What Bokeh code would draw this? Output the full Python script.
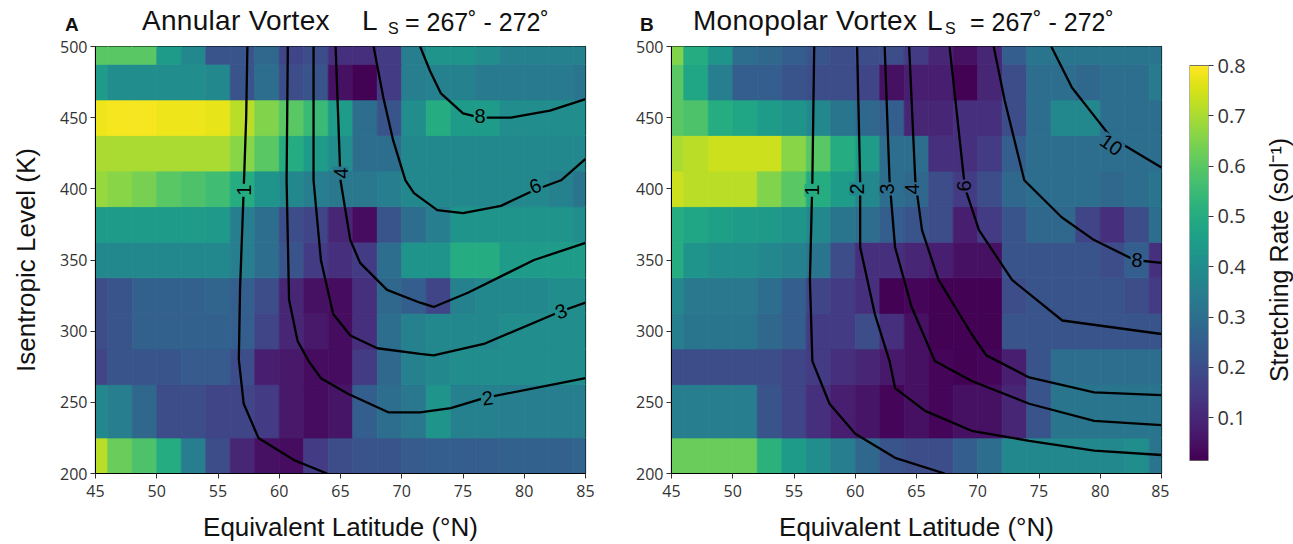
import numpy as np
from bokeh.plotting import figure
from bokeh.models import (LinearColorMapper, ColumnDataSource, Range1d,
                          FixedTicker, LinearAxis, Div)
from bokeh.layouts import row, column
from bokeh.palettes import Viridis256
from bokeh.embed import file_html
from bokeh.resources import INLINE
from bokeh.core.properties import value

# ---------------- data ----------------
latitudes = list(range(45, 86, 2))          # cell centres (deg N)
levels = [200, 250, 275, 300, 325, 350, 375, 400, 425, 450, 475, 500]   # K
x_ticks = [45, 50, 55, 60, 65, 70, 75, 80, 85]
y_ticks = [200, 250, 300, 350, 400, 450, 500]
cbar_ticks = [0.1, 0.2, 0.3, 0.4, 0.5, 0.6, 0.7, 0.8]

# Panel A: annular vortex stretching rate (sol^-1), one list per level
annular_200 = [0.72, 0.62, 0.58, 0.50, 0.35, 0.20, 0.10, 0.05, 0.04, 0.15, 0.20, 0.22, 0.22, 0.24, 0.25, 0.25, 0.25, 0.26, 0.26, 0.26, 0.27]
annular_250 = [0.38, 0.35, 0.28, 0.20, 0.20, 0.18, 0.18, 0.15, 0.07, 0.04, 0.06, 0.25, 0.30, 0.33, 0.42, 0.36, 0.36, 0.35, 0.35, 0.35, 0.35]
annular_275 = [0.18, 0.22, 0.22, 0.22, 0.24, 0.24, 0.20, 0.08, 0.07, 0.04, 0.04, 0.15, 0.28, 0.36, 0.38, 0.40, 0.40, 0.40, 0.40, 0.40, 0.40]
annular_300 = [0.20, 0.22, 0.26, 0.26, 0.26, 0.26, 0.25, 0.18, 0.10, 0.07, 0.04, 0.12, 0.30, 0.36, 0.38, 0.38, 0.38, 0.40, 0.40, 0.40, 0.40]
annular_325 = [0.20, 0.22, 0.26, 0.26, 0.26, 0.27, 0.25, 0.20, 0.10, 0.05, 0.04, 0.12, 0.28, 0.25, 0.18, 0.36, 0.38, 0.38, 0.38, 0.40, 0.40]
annular_350 = [0.38, 0.38, 0.38, 0.38, 0.38, 0.38, 0.35, 0.30, 0.22, 0.15, 0.12, 0.15, 0.30, 0.42, 0.42, 0.50, 0.50, 0.45, 0.45, 0.45, 0.45]
annular_375 = [0.45, 0.45, 0.45, 0.45, 0.45, 0.44, 0.35, 0.30, 0.20, 0.18, 0.10, 0.04, 0.22, 0.30, 0.35, 0.42, 0.42, 0.42, 0.42, 0.42, 0.40]
annular_400 = [0.68, 0.66, 0.64, 0.60, 0.58, 0.56, 0.50, 0.42, 0.38, 0.35, 0.33, 0.33, 0.35, 0.38, 0.38, 0.38, 0.38, 0.38, 0.38, 0.36, 0.32]
annular_425 = [0.70, 0.70, 0.70, 0.70, 0.70, 0.70, 0.66, 0.60, 0.50, 0.45, 0.40, 0.30, 0.30, 0.38, 0.38, 0.38, 0.38, 0.38, 0.38, 0.38, 0.38]
annular_450 = [0.78, 0.79, 0.79, 0.78, 0.78, 0.77, 0.72, 0.65, 0.60, 0.55, 0.45, 0.30, 0.22, 0.40, 0.50, 0.45, 0.45, 0.40, 0.40, 0.40, 0.40]
annular_475 = [0.45, 0.40, 0.40, 0.40, 0.40, 0.38, 0.22, 0.30, 0.20, 0.22, 0.05, 0.02, 0.15, 0.35, 0.36, 0.36, 0.34, 0.34, 0.34, 0.34, 0.32]
annular_500 = [0.60, 0.60, 0.60, 0.45, 0.38, 0.22, 0.22, 0.28, 0.18, 0.20, 0.12, 0.12, 0.15, 0.35, 0.42, 0.42, 0.40, 0.36, 0.36, 0.36, 0.36]

# Panel B: monopolar vortex stretching rate (sol^-1)
monopolar_200 = [0.62, 0.62, 0.62, 0.62, 0.52, 0.45, 0.40, 0.35, 0.28, 0.22, 0.20, 0.20, 0.25, 0.30, 0.38, 0.38, 0.38, 0.38, 0.38, 0.40, 0.32]
monopolar_250 = [0.35, 0.35, 0.35, 0.35, 0.22, 0.18, 0.12, 0.08, 0.06, 0.03, 0.05, 0.03, 0.05, 0.05, 0.10, 0.22, 0.32, 0.32, 0.32, 0.32, 0.32]
monopolar_275 = [0.20, 0.20, 0.20, 0.20, 0.20, 0.18, 0.15, 0.12, 0.10, 0.07, 0.05, 0.03, 0.02, 0.03, 0.08, 0.22, 0.30, 0.30, 0.30, 0.30, 0.30]
monopolar_300 = [0.35, 0.32, 0.32, 0.32, 0.28, 0.25, 0.15, 0.15, 0.20, 0.12, 0.05, 0.02, 0.02, 0.02, 0.22, 0.22, 0.22, 0.22, 0.22, 0.22, 0.22]
monopolar_325 = [0.38, 0.33, 0.33, 0.33, 0.30, 0.25, 0.18, 0.15, 0.12, 0.02, 0.03, 0.02, 0.02, 0.02, 0.20, 0.22, 0.22, 0.22, 0.22, 0.20, 0.15]
monopolar_350 = [0.50, 0.42, 0.40, 0.40, 0.38, 0.36, 0.32, 0.20, 0.12, 0.12, 0.10, 0.08, 0.05, 0.05, 0.22, 0.22, 0.22, 0.22, 0.20, 0.25, 0.12]
monopolar_375 = [0.50, 0.48, 0.46, 0.45, 0.44, 0.42, 0.38, 0.32, 0.30, 0.25, 0.22, 0.20, 0.08, 0.15, 0.22, 0.28, 0.28, 0.18, 0.12, 0.20, 0.30]
monopolar_400 = [0.74, 0.72, 0.72, 0.72, 0.65, 0.60, 0.50, 0.45, 0.38, 0.30, 0.28, 0.20, 0.15, 0.20, 0.28, 0.30, 0.30, 0.30, 0.28, 0.30, 0.32]
monopolar_425 = [0.70, 0.72, 0.74, 0.74, 0.74, 0.66, 0.60, 0.50, 0.45, 0.30, 0.30, 0.12, 0.12, 0.15, 0.25, 0.30, 0.30, 0.30, 0.30, 0.30, 0.30]
monopolar_450 = [0.60, 0.58, 0.50, 0.48, 0.45, 0.42, 0.38, 0.32, 0.28, 0.25, 0.10, 0.10, 0.12, 0.12, 0.20, 0.30, 0.38, 0.38, 0.30, 0.30, 0.30]
monopolar_475 = [0.60, 0.48, 0.35, 0.25, 0.25, 0.22, 0.20, 0.20, 0.18, 0.05, 0.08, 0.08, 0.02, 0.10, 0.20, 0.30, 0.30, 0.28, 0.30, 0.30, 0.34]
monopolar_500 = [0.65, 0.50, 0.42, 0.30, 0.28, 0.25, 0.22, 0.20, 0.20, 0.20, 0.15, 0.10, 0.05, 0.10, 0.25, 0.32, 0.32, 0.32, 0.32, 0.32, 0.32]

# Contours (equivalent latitude, isentropic level) for panel A
a_c1_lat = [57.4, 57.3, 57.1, 56.8, 56.7, 57.1, 58.3, 61.3, 63.9]
a_c1_K = [500, 450, 400, 330, 280, 249, 225, 209, 200]
a_c2_lat = [60.7, 60.6, 60.8, 61.5, 62.4, 63.4, 65.6, 68.9, 71.5, 74.0, 76.7, 85.0]
a_c2_K = [500, 406, 322, 293, 279, 267, 256, 243, 243, 246, 253, 267]
a_c3_lat = [62.8, 62.8, 63.4, 64.4, 65.8, 68.0, 71.5, 72.6, 76.7, 83.0, 85.0]
a_c3_K = [500, 406, 350, 312, 297, 288, 284, 283, 291, 314, 320]
a_c4_lat = [64.6, 65.0, 65.8, 66.6, 68.8, 71.5, 72.6, 75.4, 80.8, 85.0]
a_c4_K = [500, 406, 364, 348, 329, 320, 317, 327, 350, 362]
a_c6_lat = [67.7, 68.5, 69.3, 70.3, 71.0, 72.9, 75.0, 78.1, 80.8, 83.0, 85.0]
a_c6_K = [500, 464, 434, 406, 397, 385, 383, 388, 399, 406, 421]
a_c8_lat = [71.5, 72.3, 73.2, 75.0, 76.4, 78.9, 82.1, 85.0]
a_c8_K = [500, 483, 467, 453, 450, 450, 455, 463]

# Contours for panel B
b_c1_lat = [56.65, 56.5, 56.3, 56.5, 57.9, 60.0, 63.25, 67.3]
b_c1_K = [500, 406, 336, 279, 249, 228, 211, 200]
b_c2_lat = [60.15, 60.4, 60.4, 61.6, 62.8, 63.25, 65.7, 69.5, 74.2, 79.5, 85.0]
b_c2_K = [500, 406, 359, 312, 279, 260, 244, 230, 223, 216, 213]
b_c3_lat = [62.4, 62.8, 63.25, 64.6, 66.5, 69.5, 74.2, 79.5, 85.0]
b_c3_K = [500, 406, 359, 317, 279, 265, 249, 237, 234]
b_c4_lat = [64.4, 64.9, 65.45, 66.8, 69.5, 70.7, 74.2, 79.5, 85.0]
b_c4_K = [500, 406, 371, 336, 298, 283, 267.5, 257, 255]
b_c6_lat = [67.7, 68.95, 70.1, 72.8, 76.9, 85.0]
b_c6_K = [500, 401, 371, 336, 307.5, 298]
b_c8_lat = [71.3, 72.2, 73.8, 76.85, 79.5, 82.8, 85.0]
b_c8_K = [500, 462, 406, 380, 364, 350, 348]
b_c10_lat = [76.0, 77.7, 80.9, 85.0]
b_c10_K = [500, 471, 436, 415]

# Contour labels: text, lat, K, angle (deg)
a_label_text = ["1", "4", "8", "6", "3", "2"]
a_label_lat = [57.1, 65.0, 76.4, 80.9, 83.0, 77.0]
a_label_K = [399, 411, 451, 402, 314, 253]
a_label_ang = [90, 90, 0, 22, 20, 8]
b_label_text = ["1", "2", "3", "4", "6", "10", "8"]
b_label_lat = [56.5, 60.15, 62.6, 64.6, 68.9, 80.9, 83.0]
b_label_K = [399, 400, 400, 400, 402, 431, 350]
b_label_ang = [90, 90, 90, 90, 90, -35, -4]

VMIN, VMAX = 0.015, 0.8

# ---------------- helpers ----------------
mapper = LinearColorMapper(palette=Viridis256, low=VMIN, high=VMAX)
TICK_FONT = "Open Sans"
LABEL_FONT = "Liberation Sans"
TITLE_H = 35
TOP, BOTTOM, FRAME_H = 11, 71, 427


def level_edges():
    lv = np.array(levels, float)
    mids = (lv[:-1] + lv[1:]) / 2
    bottoms = np.concatenate([[lv[0] - (mids[0] - lv[0])], mids])
    tops = np.concatenate([mids, [lv[-1] + (lv[-1] - mids[-1])]])
    return bottoms, tops


def cell_source(rows):
    bottoms, tops = level_edges()
    d = dict(left=[], right=[], bottom=[], top=[], rate=[])
    for i, r in enumerate(rows):
        for j, v in enumerate(r):
            d["left"].append(latitudes[j] - 1)
            d["right"].append(latitudes[j] + 1)
            d["bottom"].append(bottoms[i])
            d["top"].append(tops[i])
            d["rate"].append(v)
    return ColumnDataSource(d)


def rate_under(rows, lat, K):
    bottoms, tops = level_edges()
    i = int(np.searchsorted(tops, K))
    i = min(max(i, 0), len(levels) - 1)
    j = int(round((lat - latitudes[0]) / 2.0))
    j = min(max(j, 0), len(latitudes) - 1)
    return rows[i][j]


def make_panel(rows, contours, lab_text, lab_lat, lab_K, lab_ang,
               left_border, right_border, ylabel):
    p = figure(x_range=Range1d(45, 85), y_range=Range1d(200, 500),
               frame_width=490, frame_height=FRAME_H, title=None,
               min_border_left=left_border, min_border_right=right_border,
               min_border_top=TOP, min_border_bottom=BOTTOM,
               output_backend="svg", toolbar_location=None, tools="")
    cmap_field = {"field": "rate", "transform": mapper}
    p.quad(left="left", right="right", bottom="bottom", top="top",
           source=cell_source(rows), fill_color=cmap_field,
           line_color=cmap_field, line_width=0.8)
    for xs, ys in contours:
        p.line(xs, ys, line_color="black", line_width=2.3)
    lab_src = ColumnDataSource(dict(
        x=lab_lat, y=lab_K, text=lab_text,
        angle=[np.deg2rad(a) for a in lab_ang],
        rate=[rate_under(rows, la, k) for la, k in zip(lab_lat, lab_K)]))
    p.text(x="x", y="y", text="text", angle="angle", source=lab_src,
           text_align="center", text_baseline="middle",
           text_font=value(LABEL_FONT), text_font_size="20px", text_color="black",
           background_fill_color=cmap_field, padding=1)
    p.xgrid.visible = False
    p.ygrid.visible = False
    p.outline_line_color = "black"
    p.outline_line_width = 1.2
    p.xaxis.ticker = FixedTicker(ticks=x_ticks)
    p.yaxis.ticker = FixedTicker(ticks=y_ticks)
    p.axis.minor_tick_line_color = None
    p.axis.major_tick_in = 0
    p.axis.major_tick_out = 5
    p.axis.major_tick_line_color = "#333333"
    p.axis.axis_line_color = "black"
    p.axis.major_label_text_font = TICK_FONT
    p.axis.major_label_text_font_size = "16px"
    p.axis.major_label_text_color = "#333333"
    p.yaxis.major_label_standoff = 3
    p.xaxis.major_label_standoff = 6
    p.xaxis.axis_label = "Equivalent Latitude (°N)"
    p.xaxis.axis_label_standoff = 12
    if ylabel:
        p.yaxis.axis_label = ylabel
        p.yaxis.axis_label_standoff = 16
    p.axis.axis_label_text_font = LABEL_FONT
    p.axis.axis_label_text_font_size = "26px"
    p.axis.axis_label_text_font_style = "normal"
    p.axis.axis_label_text_color = "#111111"
    return p


annular_rows = [annular_200, annular_250, annular_275, annular_300, annular_325, annular_350,
                annular_375, annular_400, annular_425, annular_450, annular_475, annular_500]
monopolar_rows = [monopolar_200, monopolar_250, monopolar_275, monopolar_300, monopolar_325,
                  monopolar_350, monopolar_375, monopolar_400, monopolar_425, monopolar_450,
                  monopolar_475, monopolar_500]

pa = make_panel(annular_rows,
                [(a_c1_lat, a_c1_K), (a_c2_lat, a_c2_K), (a_c3_lat, a_c3_K),
                 (a_c4_lat, a_c4_K), (a_c6_lat, a_c6_K), (a_c8_lat, a_c8_K)],
                a_label_text, a_label_lat, a_label_K, a_label_ang,
                95, 48, "Isentropic Level (K)")

pb = make_panel(monopolar_rows,
                [(b_c1_lat, b_c1_K), (b_c2_lat, b_c2_K), (b_c3_lat, b_c3_K),
                 (b_c4_lat, b_c4_K), (b_c6_lat, b_c6_K), (b_c8_lat, b_c8_K),
                 (b_c10_lat, b_c10_K)],
                b_label_text, b_label_lat, b_label_K, b_label_ang,
                36, 8, None)

# ---------------- colour bar ----------------
px_per_unit = 395 / (VMAX - VMIN)
cb_low = VMIN - 13 / px_per_unit
cb_high = VMAX + 19 / px_per_unit
pc = figure(x_range=Range1d(0, 1), y_range=Range1d(cb_low, cb_high),
            frame_width=19, frame_height=FRAME_H, title=None,
            min_border_left=20, min_border_right=45,
            min_border_top=TOP, min_border_bottom=BOTTOM,
            output_backend="svg", toolbar_location=None, tools="",
            x_axis_location=None, y_axis_location=None)
grad = np.linspace(VMIN, VMAX, 256).reshape(256, 1)
pc.image(image=[grad], x=0, y=VMIN, dw=1, dh=VMAX - VMIN, color_mapper=mapper)
pc.quad(left=[0], right=[1], bottom=[VMIN], top=[VMAX], fill_color=None,
        line_color="#555555", line_width=0.8)
pc.xgrid.visible = False
pc.ygrid.visible = False
pc.outline_line_color = None
cax = LinearAxis(ticker=FixedTicker(ticks=cbar_ticks))
cax.axis_line_color = None
cax.major_tick_in = 0
cax.major_tick_out = 5
cax.major_tick_line_color = "#333333"
cax.minor_tick_line_color = None
cax.major_label_text_font = TICK_FONT
cax.major_label_text_font_size = "20px"
cax.major_label_text_color = "#333333"
cax.major_label_standoff = 4
pc.add_layout(cax, "right")

# colour-bar title: a left axis label of a thin companion plot (reads bottom-to-top)
pd = figure(x_range=Range1d(0, 1), y_range=Range1d(cb_low, cb_high),
            frame_width=1, frame_height=FRAME_H, title=None,
            min_border_left=41, min_border_right=0,
            min_border_top=TOP, min_border_bottom=BOTTOM,
            output_backend="svg", toolbar_location=None, tools="",
            x_axis_location=None, y_axis_location=None)
pd.xgrid.visible = False
pd.ygrid.visible = False
pd.outline_line_color = None
tax = LinearAxis(ticker=FixedTicker(ticks=[]), axis_label="Stretching Rate (sol⁻¹)")
tax.axis_line_color = None
tax.major_tick_line_color = None
tax.minor_tick_line_color = None
tax.major_tick_out = 0
tax.major_label_text_font_size = "0px"
tax.axis_label_standoff = 2
tax.axis_label_text_font = LABEL_FONT
tax.axis_label_text_font_size = "25px"
tax.axis_label_text_font_style = "normal"
tax.axis_label_text_color = "#111111"
pd.add_layout(tax, "left")

# ---------------- titles ----------------
def span(left, top, size, lh, text, extra=""):
    return (f'<span style="position:absolute;left:{left}px;top:{top}px;'
            f'font-size:{size}px;line-height:{lh}px;white-space:nowrap;{extra}">{text}</span>')

MAIN = "letter-spacing:0.3px;"
title_html = (
    f'<div style="position:relative;width:1293px;height:{TITLE_H}px;overflow:visible;'
    "font-family:'Liberation Sans',Arial,sans-serif;color:#111111;\">"
    + span(65, 15, 19, 19, "A", "font-weight:bold;")
    + span(142, 7, 28, 28, "Annular Vortex", MAIN)
    + span(362, 7, 28, 28, "L")
    + span(388, 23, 16, 12, "S")
    + span(405, 10, 25, 25, "= 267˚ - 272˚")
    + span(640, 15, 19, 19, "B", "font-weight:bold;")
    + span(693, 7, 28, 28, "Monopolar Vortex", MAIN)
    + span(927, 7, 28, 28, "L")
    + span(945, 23, 16, 12, "S")
    + span(970, 10, 25, 25, "= 267˚ - 272˚")
    + "</div>"
)
title_div = Div(text=title_html, width=1293, height=TITLE_H, margin=0)

layout = column(title_div, row(pa, pb, pc, pd))
open("out.html", "w").write(file_html(layout, INLINE))
